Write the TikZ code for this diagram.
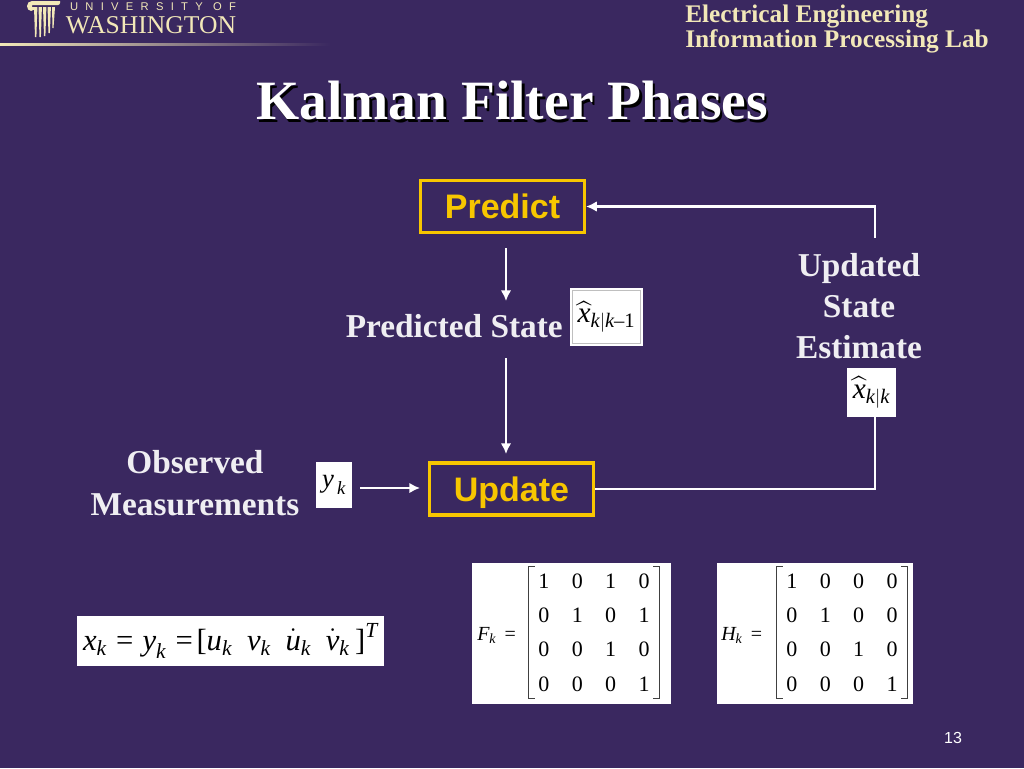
\documentclass[tikz,border=0pt]{standalone}
\usepackage{amsmath}
\usepackage{fontspec}
\setmainfont{Liberation Serif}
\setsansfont{Liberation Sans}
\usetikzlibrary{positioning, matrix, arrows.meta}
\definecolor{slidebg}{HTML}{3A2860}
\definecolor{husky}{HTML}{F7C600}
\definecolor{cream}{HTML}{F2E8B8}
\newcommand{\mv}[1]{\text{\itshape #1}}
\begin{document}
\begin{tikzpicture}[
x=0.75pt, y=-0.75pt,
phase/.style={rectangle,
  draw=husky,
  line width=2.4pt,
  minimum width=123pt,
  minimum height=39pt,
  text height=20pt,
  text depth=2pt,
  text=husky,
  font=\sffamily\bfseries\fontsize{25.5}{25.5}\selectfont,
},
caption/.style={
  text=white!92!slidebg,
  align=center,
  font=\bfseries\fontsize{25}{31}\selectfont,
  inner sep=0pt,
},
mathbox/.style={rectangle,
  fill=white,
  text=black,
  inner sep=0pt,
},
mat/.style={
  matrix of nodes,
  inner sep=0pt,
  nodes={text=black, inner sep=0pt, minimum width=25.1pt, minimum height=25.7pt,
    font=\fontsize{16.5}{16.5}\selectfont},
},
brack/.style={draw=black!75, line width=1pt},
flow/.style={-{Latex[length=8pt,width=8pt]}, white, line width=2.2pt},
wire/.style={white, line width=2.2pt},
]
\path[fill=slidebg, use as bounding box] (0,0) rectangle (1024,768);

% logo
\shade[left color=cream, right color=slidebg, draw=none] (0,43) rectangle (330,45);
\path[fill=cream] (60,1) -- (32,1) to[out=180,in=90] (27,6) to[out=-90,in=180] (31,11) to[out=0,in=-90] (35,7) -- (32,7) -- (32,5) -- (58,5) to[out=0,in=-90] (60,3) -- cycle;
\foreach \fx/\fy in {34/37,38.5/37,43/36,47.5/33}
  \path[fill=cream] (\fx,7) -- (\fx+3.4,7) -- (\fx+2.4,\fy) -- (\fx+1,\fy) -- cycle;
\path[fill=cream] (52,7) -- (55,7) -- (53.5,28) -- (52.5,28) -- cycle;
\node[text=cream, inner sep=0pt, font=\sffamily\fontsize{8.4}{8.4}\selectfont\addfontfeature{LetterSpace=65}] (univ) at (153,7) {UNIVERSITY OF};
\node[text=cream, inner sep=0pt, font=\fontsize{19.2}{19.2}\selectfont] (wash) at (151,25) {WASHINGTON};
\node[text=cream, inner sep=0pt, align=left, anchor=north west, font=\bfseries\fontsize{19}{18.5}\selectfont] (lab) at (685,5)
    {Electrical Engineering\\Information Processing Lab};

% title
\node[text=black, inner sep=0pt, font=\bfseries\fontsize{41.6}{41.6}\selectfont] (shadow) at (514.5,103.5)
    {Kalman Filter Phases};
\node[text=white, inner sep=0pt, font=\bfseries\fontsize{41.6}{41.6}\selectfont] (title) at (512,101)
    {Kalman Filter Phases};

% phases
\node[phase] (predict) at (502.5,206.5) {Predict};
\node[phase] (update) at (511.5,489) {Update};

% labels
\node[caption, anchor=east] (predicted) at (563,326) {Predicted State};
\node[caption] (updated) at (859,306) {Updated\\State\\Estimate};
\node[caption] (observed) at (195,483) {Observed\\Measurements};

% small formula boxes
\node[mathbox, minimum width=54.75pt, minimum height=43.5pt] (xpred) at (606.5,317)
    {\fontsize{22}{22}\selectfont$\widehat{\mv{x}}_{\mv{k}|\mv{k}\text{--}\text{1}}$};
\draw[black!25, line width=0.7pt] ([shift={(2pt,2pt)}]xpred.south west) rectangle ([shift={(-2pt,-2pt)}]xpred.north east);
\node[mathbox, minimum width=36.75pt, minimum height=36.75pt] (xupd) at (871.5,392.5)
    {\fontsize{22}{22}\selectfont$\widehat{\mv{x}}_{\mv{k}|\mv{k}}$};
\node[mathbox, minimum width=27pt, minimum height=34.5pt] (yobs) at (334,485)
    {\fontsize{20}{20}\selectfont$\mv{y}_{\,\mv{k}}$};

% equation
\node[mathbox, minimum width=230pt, minimum height=37.5pt] (state) at (230.5,641)
    {\fontsize{23}{23}\selectfont$\mv{x}_{\mv{k}} \mathrel{\text{=}} \mv{y}_{\mv{k}} \mathrel{\text{=}}\!\text{[}\mv{u}_{\mv{k}}\;\,\mv{v}_{\mv{k}}\;\,\dot{\mv{u}}_{\mv{k}}\;\,\dot{\mv{v}}_{\mv{k}}\,\text{]}^{\mv{T}}$};

% matrices
\node[mathbox, minimum width=149.25pt, minimum height=105.75pt] (fbox) at (571.5,633.5) {};
\node[mathbox, minimum width=147pt, minimum height=105.75pt] (hbox) at (815,633.5) {};
\node[anchor=west, inner sep=0pt, text=black] (flabel) at (477,635)
    {\fontsize{15}{15}\selectfont$\mv{F}_{\mv{k}}$ \,=};
\node[anchor=west, inner sep=0pt, text=black] (hlabel) at (721,635)
    {\fontsize{15}{15}\selectfont$\mv{H}_{\mv{k}}$ \,=};
\matrix[mat] (fmat) at (594,632.5) {
1 & 0 & 1 & 0 \\
0 & 1 & 0 & 1 \\
0 & 0 & 1 & 0 \\
0 & 0 & 0 & 1 \\
};
\matrix[mat] (hmat) at (842,632.5) {
1 & 0 & 0 & 0 \\
0 & 1 & 0 & 0 \\
0 & 0 & 1 & 0 \\
0 & 0 & 0 & 1 \\
};
\foreach \m in {fmat,hmat} {
  \draw[brack] ([xshift=6pt,yshift=-2pt]\m.north west) -- ([xshift=1.5pt,yshift=-2pt]\m.north west) -- ([xshift=1.5pt,yshift=2pt]\m.south west) -- ([xshift=6pt,yshift=2pt]\m.south west);
  \draw[brack] ([xshift=-6pt,yshift=-2pt]\m.north east) -- ([xshift=-1.5pt,yshift=-2pt]\m.north east) -- ([xshift=-1.5pt,yshift=2pt]\m.south east) -- ([xshift=-6pt,yshift=2pt]\m.south east);
}

% page number
\node[text=white, inner sep=0pt, font=\sffamily\fontsize{12}{12}\selectfont] (page) at (953,738) {13};

% connectors
\coordinate (pout) at (506,248);
\coordinate (pin) at (506,301);
\coordinate (uout) at (506,358);
\coordinate (uin) at (506,454);
\coordinate (yout) at (360,488);
\coordinate (yin) at (420,488);
\coordinate (back) at (875,238);
\draw[flow] (pout) -- (pin);
\draw[flow] (uout) -- (uin);
\draw[flow] (yout) -- (yin);
\draw[flow] (back) |- (predict.east);
\draw[wire] (update.east) -| (xupd.south -| back);
\end{tikzpicture}
\end{document}
